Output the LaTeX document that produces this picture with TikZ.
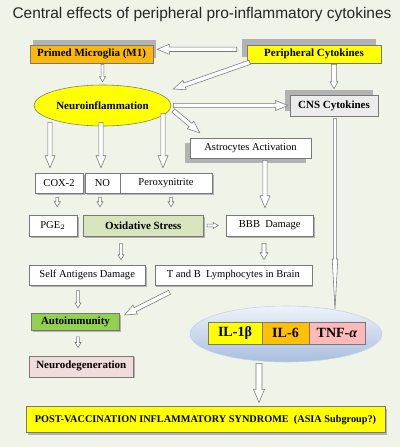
\documentclass[tikz,border=0pt]{standalone}
\usepackage{fontspec}
\setmainfont{Liberation Serif}
\newfontfamily\titlefont{Liberation Sans}
\usetikzlibrary{shapes.geometric, calc, shadows}

\newlength\unitpx
\setlength\unitpx{0.025cm}

\definecolor{bgcol}{RGB}{240,243,232}
\definecolor{primedcol}{RGB}{250,185,10}
\definecolor{yellowcol}{RGB}{255,255,0}
\definecolor{cnscol}{RGB}{236,236,236}
\definecolor{oxcol}{RGB}{215,228,189}
\definecolor{autocol}{RGB}{146,208,80}
\definecolor{degcol}{RGB}{242,220,219}
\definecolor{ilsixcol}{RGB}{255,192,0}
\definecolor{tnfcol}{RGB}{255,185,185}
\definecolor{cytotop}{RGB}{238,243,250}
\definecolor{cytobot}{RGB}{168,190,222}
\definecolor{edgecol}{RGB}{120,120,120}

\tikzset{
  box/.style={draw=edgecol, fill=white, inner sep=0pt, minimum height=20\unitpx,
    font=\fontsize{7.5}{9}\selectfont},
  bbox/.style={box, font=\bfseries\fontsize{7.8}{9}\selectfont},
  ilbox/.style={box, minimum height=22\unitpx, font=\bfseries\fontsize{10}{12}\selectfont},
  hollow/.style n args={3}{draw=edgecol, fill=white, line width=0.4pt,
    to path={
      let \p1=(\tikztostart), \p2=(\tikztotarget),
          \n1={atan2(\y2-\y1,\x2-\x1)} in
      ($(\p1)+(\n1+90:#1\unitpx)$)
      -- ($(\p2)+(\n1+180:#3\unitpx)+(\n1+90:#1\unitpx)$)
      -- ($(\p2)+(\n1+180:#3\unitpx)+(\n1+90:#2\unitpx)$)
      -- (\p2)
      -- ($(\p2)+(\n1+180:#3\unitpx)+(\n1-90:#2\unitpx)$)
      -- ($(\p2)+(\n1+180:#3\unitpx)+(\n1-90:#1\unitpx)$)
      -- ($(\p1)+(\n1-90:#1\unitpx)$) -- cycle}},
  bigarrow/.style={hollow={2.2}{5}{12}},
  midarrow/.style={hollow={2}{4}{7}},
  smallarrow/.style={hollow={1.4}{3}{5}},
  softshadow/.style 2 args={drop shadow={shadow xshift=#1\unitpx,
    shadow yshift=#2\unitpx, fill=black!30, opacity=1}}
}

\begin{document}
\begin{tikzpicture}[x=0.025cm, y=-0.025cm]
    % 1. 背景与标题
    \fill[bgcol] (0,0) rectangle (400,447);
    \useasboundingbox (0,0) rectangle (400,447);
    \node[font=\titlefont\fontsize{11}{13}\selectfont, text=black!85] (title) at (202,15)
        {Central effects of peripheral pro-inflammatory cytokines};

    % 2. 上层方框与椭圆
    \node[bbox, fill=primedcol, minimum width=123\unitpx, minimum height=18\unitpx,
        softshadow={3}{5}] (primed) at (91.5,54) {Primed Microglia (M1)};
    \node[bbox, fill=yellowcol, minimum width=134\unitpx, minimum height=18\unitpx,
        softshadow={-5}{6}] (periph) at (314,54) {Peripheral Cytokines};
    \node[ellipse, draw=edgecol, fill=yellowcol, inner sep=0pt, minimum width=137\unitpx,
        minimum height=41\unitpx, font=\bfseries\fontsize{7.8}{9}\selectfont] (neuro)
        at (102.5,105.5) {Neuroinflammation};
    \node[bbox, fill=cnscol, minimum width=88\unitpx, minimum height=21\unitpx,
        softshadow={-5}{5}] (cns) at (334,105.5) {CNS Cytokines};
    \node[box, minimum width=121\unitpx, softshadow={-5}{-5}] (astro) at (250.5,148)
        {Astrocytes Activation};

    % 3. 中间各行
    \node[box, minimum width=48\unitpx, softshadow={1.5}{-1.5}] (cox) at (59,183) {COX-2};
    \node[box, minimum width=35\unitpx, softshadow={1.5}{-1.5}] (no) at (102.5,183) {NO};
    \node[box, minimum width=92\unitpx, softshadow={1.5}{-1.5}] (perox) at (166,183) {Peroxynitrite};
    \node[box, minimum width=48\unitpx, minimum height=21\unitpx, softshadow={1.5}{-1.5}] (pge)
        at (53,225.5) {PGE$_2$};
    \node[bbox, fill=oxcol, minimum width=120\unitpx, minimum height=21\unitpx,
        softshadow={1.5}{-1.5}] (ox) at (143.3,225.5) {Oxidative Stress};
    \node[box, minimum width=87\unitpx, minimum height=21\unitpx, softshadow={1.5}{-1.5}] (bbb)
        at (269.7,225.5) {BBB\ \ Damage};
    \node[box, minimum width=116\unitpx, softshadow={1.5}{-1.5}] (self) at (87.2,275)
        {Self Antigens Damage};
    \node[box, minimum width=157\unitpx, softshadow={1.5}{-1.5}] (tb) at (233.3,275)
        {T and B\ \ Lymphocytes in Brain};
    \node[bbox, fill=autocol, minimum width=88\unitpx, minimum height=17\unitpx,
        softshadow={1.5}{-1.5}] (auto) at (75.5,321.7) {Autoimmunity};
    \node[bbox, fill=degcol, minimum width=104\unitpx, minimum height=21\unitpx,
        softshadow={1.5}{-1.5}] (neurodeg) at (81.3,366.3) {Neurodegeneration};

    % 4. 细胞因子椭圆
    \node[ellipse, draw=cytobot!70!white, top color=cytotop, bottom color=cytobot,
        minimum width=192\unitpx, minimum height=56\unitpx] (cyto) at (286,334) {};
    \node[ilbox, fill=yellowcol, minimum width=54\unitpx] (ilone) at (235,333) {IL-1β};
    \node[ilbox, fill=ilsixcol, minimum width=47\unitpx] (ilsix) at (285.5,333) {IL-6};
    \node[ilbox, fill=tnfcol, minimum width=56\unitpx] (tnf) at (337,333) {TNF-\textit{α}};

    % 5. 底部方框
    \node[bbox, fill=yellowcol, minimum width=359\unitpx, minimum height=26\unitpx,
        font=\bfseries\fontsize{7.3}{9}\selectfont, softshadow={2}{-2}] (post) at (205.5,419.7)
        {POST-VACCINATION INFLAMMATORY SYNDROME\ \ (ASIA Subgroup?)};

    % 6. 空心箭头
    \draw[bigarrow] ($(periph.west)+(-10,-4.7)$) to ($(primed.east)+(4,-4.7)$);
    \draw[bigarrow] ($(periph.south west)+(3,-1)$) to ($(neuro.east)+(2,-16.5)$);
    \draw[hollow={2.7}{4}{7}] ($(cns.north |- periph.south)+(0,1)$) to ($(cns.north)+(0,-6)$);
    \draw[smallarrow] ($(neuro.north |- primed.south)+(0,1)$) to ($(neuro.north)+(0,-3)$);
    \draw[bigarrow] ($(neuro.east)+(2,0)$) to ($(cns.west)+(-2,0)$);
    \draw[bigarrow] ($(neuro.east)+(2,5)$) to ($(astro.north west)+(10,-5)$);
    \draw[bigarrow] ($(neuro.south)+(-52.5,-4)$) to ($(cox.north)+(-9,-5)$);
    \draw[bigarrow] ($(neuro.south)+(-1.5,-4)$) to ($(no.north)+(-1.5,-5)$);
    \draw[bigarrow] ($(neuro.south)+(60.5,-13)$) to ($(perox.north)+(-3,-5)$);
    \draw[smallarrow] ($(cox.south)+(-1.7,4)$) to ($(pge.north)+(4.3,-8)$);
    \draw[smallarrow] ($(no.south)+(-2.5,4)$) to ($(ox.north)+(-43.3,-8)$);
    \draw[smallarrow] ($(perox.south)+(5,4)$) to ($(ox.north)+(27.7,-8)$);
    \draw[bigarrow] ($(astro.south)+(14.5,2)$) to ($(bbb.north)+(-4.7,-7)$);
    \draw[smallarrow] ($(ox.east)+(3.5,0)$) to ($(bbb.west)+(-7.7,0)$);
    \draw[smallarrow] ($(ox.south)+(-22.3,7)$) to ($(self.north)+(33.8,-5)$);
    \draw[midarrow] ($(bbb.south)+(-5.7,7)$) to ($(tb.north)+(30.7,-5)$);
    \draw[smallarrow] ($(self.south)+(-9.2,5)$) to ($(auto.north)+(2.5,-5)$);
    \draw[bigarrow] ($(tb.south west)+(15,7)$) to ($(auto.east)+(4.7,-6.7)$);
    \draw[smallarrow] ($(auto.south)+(2.5,6.3)$) to ($(neurodeg.north)+(-3.3,-8)$);
    \draw[hollow={1.3}{2.8}{50}] ($(cns.south)+(1,2)$) to ($(cyto.center)+(49,-25)$);
    \draw[hollow={3}{5.5}{13}] ($(cyto.south)+(-27,1)$) to ($(post.north)+(53.5,-4)$);
\end{tikzpicture}
\end{document}
